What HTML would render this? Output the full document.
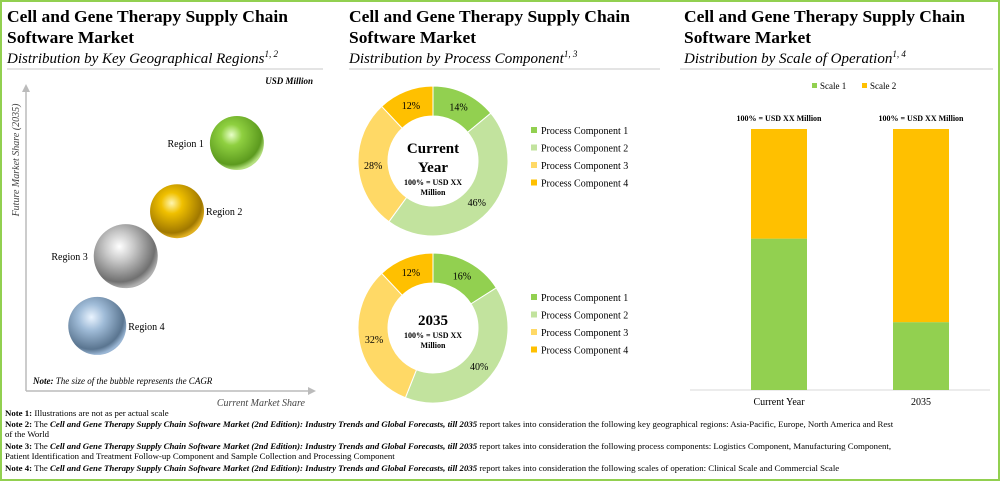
<!DOCTYPE html>
<html><head><meta charset="utf-8"><style>
body{margin:0;background:#fff;}
svg{display:block;font-family:"Liberation Serif",serif;}
</style></head><body>
<svg width="1000" height="481" viewBox="0 0 1000 481">
<defs>
<radialGradient id="gGreen" cx="40%" cy="35%" r="65%"><stop offset="0" stop-color="#e8ffc8"/><stop offset="0.3" stop-color="#8fd040"/><stop offset="0.85" stop-color="#5c9a1e"/><stop offset="1" stop-color="#b5e080"/></radialGradient>
<radialGradient id="gGold" cx="40%" cy="35%" r="65%"><stop offset="0" stop-color="#fff6b0"/><stop offset="0.3" stop-color="#f0c000"/><stop offset="0.85" stop-color="#a07800"/><stop offset="1" stop-color="#e0b020"/></radialGradient>
<radialGradient id="gGray" cx="40%" cy="35%" r="65%"><stop offset="0" stop-color="#ffffff"/><stop offset="0.35" stop-color="#c8c8c8"/><stop offset="0.85" stop-color="#707070"/><stop offset="1" stop-color="#b0b0b0"/></radialGradient>
<radialGradient id="gBlue" cx="40%" cy="35%" r="65%"><stop offset="0" stop-color="#eaf4ff"/><stop offset="0.35" stop-color="#a0bcd8"/><stop offset="0.85" stop-color="#5a7590"/><stop offset="1" stop-color="#9ab6d4"/></radialGradient>
</defs>
<rect x="1" y="1" width="998" height="479" fill="#fff" stroke="#92d050" stroke-width="2"/>

<!-- Panel 1 -->
<g>
<text x="7" y="22" font-size="17" font-weight="bold" textLength="281" lengthAdjust="spacingAndGlyphs">Cell and Gene Therapy Supply Chain</text>
<text x="7" y="43" font-size="17" font-weight="bold" textLength="127" lengthAdjust="spacingAndGlyphs">Software Market</text>
<text x="7" y="63" font-size="15" font-style="italic">Distribution by Key Geographical Regions<tspan font-size="9" dy="-6">1, 2</tspan></text>
<line x1="7" y1="69" x2="323" y2="69" stroke="#c8c8c8" stroke-width="1"/>
<text x="313" y="84" font-size="9" font-weight="bold" font-style="italic" text-anchor="end">USD Million</text>
<line x1="26" y1="391" x2="26" y2="88" stroke="#bbb" stroke-width="1.5"/>
<polygon points="22,92 26,84 30,92" fill="#bbb"/>
<line x1="26" y1="391" x2="310" y2="391" stroke="#bbb" stroke-width="1.5"/>
<polygon points="308,387 316,391 308,395" fill="#bbb"/>
<text transform="translate(19,160) rotate(-90)" font-size="10" font-style="italic" fill="#444" text-anchor="middle">Future Market Share (2035)</text>
<text x="305" y="406" font-size="10" font-style="italic" fill="#444" text-anchor="end">Current Market Share</text>
<text x="33" y="384" font-size="9" font-style="italic"><tspan font-weight="bold">Note:</tspan> The size of the bubble represents the CAGR</text>
<g id="bubbles"></g>
</g>

<!-- Panel 2 -->
<g>
<text x="349" y="22" font-size="17" font-weight="bold" textLength="281" lengthAdjust="spacingAndGlyphs">Cell and Gene Therapy Supply Chain</text>
<text x="349" y="43" font-size="17" font-weight="bold" textLength="127" lengthAdjust="spacingAndGlyphs">Software Market</text>
<text x="349" y="63" font-size="15" font-style="italic">Distribution by Process Component<tspan font-size="9" dy="-6">1, 3</tspan></text>
<line x1="349" y1="69" x2="660" y2="69" stroke="#c8c8c8" stroke-width="1"/>
<g id="donuts"></g>
</g>

<!-- Panel 3 -->
<g>
<text x="684" y="22" font-size="17" font-weight="bold" textLength="281" lengthAdjust="spacingAndGlyphs">Cell and Gene Therapy Supply Chain</text>
<text x="684" y="43" font-size="17" font-weight="bold" textLength="127" lengthAdjust="spacingAndGlyphs">Software Market</text>
<text x="684" y="63" font-size="15" font-style="italic">Distribution by Scale of Operation<tspan font-size="9" dy="-6">1, 4</tspan></text>
<line x1="680" y1="69" x2="993" y2="69" stroke="#c8c8c8" stroke-width="1"/>
<rect x="812" y="83" width="5" height="5" fill="#92d050"/>
<text x="820" y="89" font-size="9">Scale 1</text>
<rect x="862" y="83" width="5" height="5" fill="#ffc000"/>
<text x="870" y="89" font-size="9">Scale 2</text>
<g id="bars"></g>
</g>

<!-- Notes -->
<g font-size="8.8">
<text x="5" y="416"><tspan font-weight="bold">Note 1:</tspan> Illustrations are not as per actual scale</text>
<text x="5" y="427"><tspan font-weight="bold">Note 2:</tspan> The <tspan font-style="italic" font-weight="bold">Cell and Gene Therapy Supply Chain Software Market (2nd Edition): Industry Trends and Global Forecasts, till 2035</tspan> report takes into consideration the following key geographical regions: Asia-Pacific, Europe, North America and Rest</text>
<text x="5" y="437">of the World</text>
<text x="5" y="449"><tspan font-weight="bold">Note 3:</tspan> The <tspan font-style="italic" font-weight="bold">Cell and Gene Therapy Supply Chain Software Market (2nd Edition): Industry Trends and Global Forecasts, till 2035</tspan> report takes into consideration the following process components: Logistics Component, Manufacturing Component,</text>
<text x="5" y="459">Patient Identification and Treatment Follow-up Component and Sample Collection and Processing Component</text>
<text x="5" y="471"><tspan font-weight="bold">Note 4:</tspan> The <tspan font-style="italic" font-weight="bold">Cell and Gene Therapy Supply Chain Software Market (2nd Edition): Industry Trends and Global Forecasts, till 2035</tspan> report takes into consideration the following scales of operation: Clinical Scale and Commercial Scale</text>
</g>
</svg>
<script>
const NS="http://www.w3.org/2000/svg";
// Bubble data (illustrative positions, 0-100 scale)
const regionNames=["Region 1","Region 2","Region 3","Region 4"];
const regionCurrent=[74,53,35,25];
const regionFuture=[80,58,43.5,21];
const regionCAGR=[27,27,32,29];
// Donut data
const components=["Process Component 1","Process Component 2","Process Component 3","Process Component 4"];
const shareCurrent=[14,46,28,12];
const share2035=[16,40,32,12];
// Bar data
const barCategories=["Current Year","2035"];
const scale1=[58,26];
const scale2=[42,74];

const compColors=["#92d050","#c2e39e","#ffd966","#ffc000"];
function mk(tag,attrs,parent){const e=document.createElementNS(NS,tag);for(const k in attrs)e.setAttribute(k,attrs[k]);parent.appendChild(e);return e;}

// bubbles
const xS=v=>26+v*2.85, yS=v=>391-v*3.1;
const grads=["gGreen","gGold","gGray","gBlue"];
const bg=document.getElementById("bubbles");
regionNames.forEach((n,i)=>{
  const cx=xS(regionCurrent[i]),cy=yS(regionFuture[i]),r=regionCAGR[i];
  const c=mk("circle",{cx,cy,r,fill:"url(#"+grads[i]+")"},bg);
  
  
  const right=(i===1||i===3);
  const t=mk("text",{x:right?cx+r+2:cx-r-6,y:cy+4,"font-size":10,"text-anchor":right?"start":"end"},bg);
  t.textContent=n;
  
  
});

// donuts
const dg=document.getElementById("donuts");
function donut(cx,cy,vals,idx,titleLines){
  const R=75,r=45;let a=0;const tot=vals.reduce((s,v)=>s+v,0);
  vals.forEach((v,i)=>{
    const a0=a/tot*2*Math.PI,a1=(a+v)/tot*2*Math.PI;a+=v;
    const p=(ang,rad)=>[cx+rad*Math.sin(ang),cy-rad*Math.cos(ang)];
    const [x0,y0]=p(a0,R),[x1,y1]=p(a1,R),[x2,y2]=p(a1,r),[x3,y3]=p(a0,r);
    const lg=(a1-a0)>Math.PI?1:0;
    const path=mk("path",{d:`M${x0},${y0}A${R},${R} 0 ${lg} 1 ${x1},${y1}L${x2},${y2}A${r},${r} 0 ${lg} 0 ${x3},${y3}Z`,fill:compColors[i],stroke:"#fff","stroke-width":1},dg);
    
    
    const m=(a0+a1)/2,[lx,ly]=p(m,60);
    const t=mk("text",{x:lx,y:ly+4,"font-size":10,"text-anchor":"middle"},dg);
    t.textContent=v+"%";
    
    
  });
  let y=titleLines.length>1?cy-8:cy-3;
  titleLines.forEach((l,k)=>{const t=mk("text",{x:cx,y:y+k*19,"font-size":15,"font-weight":"bold","text-anchor":"middle"},dg);t.textContent=l;
    
    });
  y+= (titleLines.length-1)*19+13;
  ["100% = USD XX","Million"].forEach((l,k)=>{const t=mk("text",{x:cx,y:y+k*10,"font-size":8,"font-weight":"bold","text-anchor":"middle"},dg);t.textContent=l;
    
    });
  const ly0=cy-28;
  components.forEach((c,i)=>{
    const s=mk("rect",{x:531,y:ly0+i*17.5-6,width:6,height:6,fill:compColors[i]},dg);
    
    
    const t=mk("text",{x:541,y:ly0+i*17.5+1,"font-size":10},dg);t.textContent=c;
    
    
  });
}
donut(433,161,shareCurrent,1,["Current","Year"]);
donut(433,328,share2035,2,["2035"]);

// bars
const bG=document.getElementById("bars");
const barTop=129,barBot=390,bw=56,centers=[779,921];
const yB=v=>barBot-(barBot-barTop)*v/100;
const axl=mk("line",{x1:690,y1:barBot,x2:990,y2:barBot,stroke:"#d9d9d9","stroke-width":1},bG);


barCategories.forEach((c,i)=>{
  const x=centers[i]-bw/2;
  const g=mk("rect",{x,y:yB(scale1[i]),width:bw,height:barBot-yB(scale1[i]),fill:"#92d050"},bG);
  
  
  const o=mk("rect",{x,y:yB(scale1[i]+scale2[i]),width:bw,height:yB(scale1[i])-yB(scale1[i]+scale2[i]),fill:"#ffc000"},bG);
  
  
  const t=mk("text",{x:centers[i],y:yB(scale1[i]+scale2[i])-8,"font-size":8,"font-weight":"bold","text-anchor":"middle"},bG);
  t.textContent="100% = USD XX Million";
  
  
  const l=mk("text",{x:centers[i],y:405,"font-size":10,"text-anchor":"middle"},bG);
  l.textContent=c;
  
  
});
</script>
</body></html>
